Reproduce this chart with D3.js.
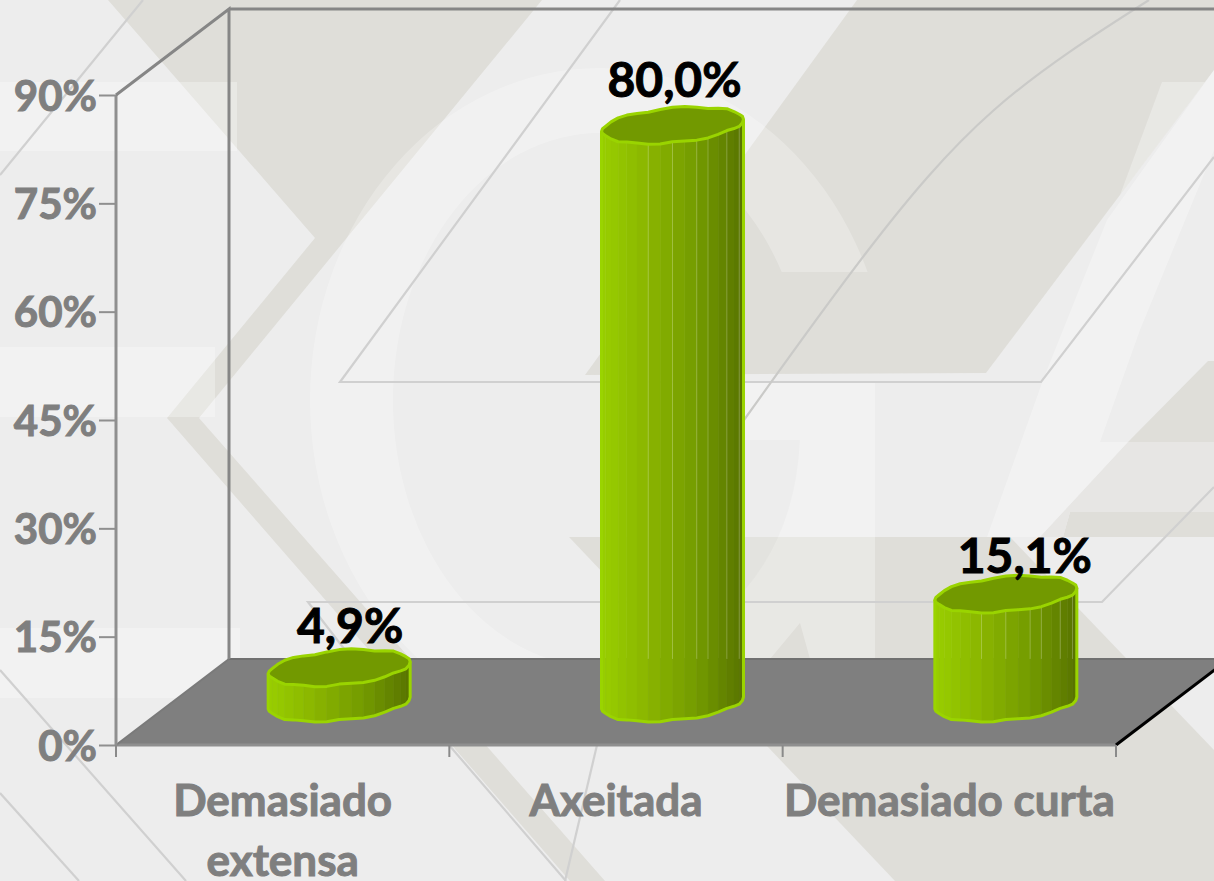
<!DOCTYPE html>
<html><head><meta charset="utf-8">
<script src="https://cdn.jsdelivr.net/npm/d3@7/dist/d3.min.js"></script>
<style>html,body{margin:0;padding:0;background:#ededed;overflow:hidden}svg{display:block}text{font-family:Lato,"Open Sans",sans-serif;font-weight:700;paint-order:stroke}</style>
</head><body><svg id="c" width="1214" height="881"></svg>
<script>
// ---- chart data ----
const categories = [["Demasiado","extensa"],["Axeitada"],["Demasiado curta"]];
const values = [4.9, 80.0, 15.1];
const valueLabels = ["4,9%","80,0%","15,1%"];
const yTicks = [0,15,30,45,60,75,90];
const labelShift = [11, 2, 19];
const labelLift = [25, 28, 21];

// ---- backdrop artwork (decorative watermark, not data) ----
const darkShapes = [
  [[108,0],[315,238],[167,418],[199,418],[542,0]],
  [[167,418],[199,418],[605,881],[570,881]],
  [[857,0],[1214,0],[1214,70],[986,373],[585,375]],
  [[569,537],[1010,537],[1214,750],[1214,881],[895,881]],
  [[1208,361],[1214,361],[1214,442],[1128,442]],
  [[1070,512],[1214,512],[1214,537],[1063,537]]
];
const midShapes = [
  [[1128,442],[1214,442],[1214,512],[1070,512],[1063,537],[1040,537]]
];
const brightShapes = [
  [[1214,70],[1107,220],[1043,380],[987,537],[1040,537],[1128,442],[1100,442],[1140,330],[1214,150]],
  [[745,383],[875,383],[875,659],[810,659],[800,623],[770,659],[745,659]],
  [[1162,82],[1205,82],[1120,195]],
  [[0,82],[237,82],[237,151],[0,151]],
  [[0,347],[215,347],[215,417],[0,417]],
  [[0,628],[240,628],[240,698],[0,698]]
];
const thinLines = [
  [[620,0],[340,382],[1041,382],[1214,157]],
  [[345,650],[308,602],[1102,602],[1214,487]],
  [[0,175],[143,0]],
  [[0,670],[186,881]],
  [[0,793],[79,881]],
  [[449,745],[566,881]],
  [[597,745],[565,881]]
];
const thinCurve = [[744,420],[866,253],[994,110],[1149,0]];
const ring = {cx:600, cy:400, rxOut:290, ryOut:332, rxIn:207, ryIn:267};

const svg = d3.select("#c");
const W = 1214, H = 881;
const bg = svg.append("g");
bg.append("rect").attr("width",W).attr("height",H).attr("fill","#ededed");
const poly = d3.line();
bg.selectAll("path.d").data(darkShapes).join("path").attr("class","d").attr("d",d=>poly(d)+"Z").attr("fill","#dfded9");
bg.selectAll("path.m").data(midShapes).join("path").attr("class","m").attr("d",d=>poly(d)+"Z").attr("fill","#e7e6e4");
const defs = svg.append("defs");
defs.append("clipPath").attr("id","ringClip").append("path").attr("d",poly([[0,0],[W,0],[W,272],[745,272],[745,H],[0,H]])+"Z");
const ell = (cx,cy,rx,ry)=>`M${cx-rx},${cy}a${rx},${ry} 0 1,0 ${2*rx},0a${rx},${ry} 0 1,0 ${-2*rx},0Z`;
bg.append("g").attr("clip-path","url(#ringClip)").append("path")
  .attr("d",ell(ring.cx,ring.cy,ring.rxOut,ring.ryOut)+ell(ring.cx,ring.cy,ring.rxIn,ring.ryIn))
  .attr("fill-rule","evenodd").attr("fill","#fff").attr("opacity",0.25);
bg.selectAll("path.b").data(brightShapes).join("path").attr("class","b").attr("d",d=>poly(d)+"Z").attr("fill","#fff").attr("opacity",0.3);
bg.append("path").attr("d","M745,440H800Q796,530 745,590Z").attr("fill","#000").attr("opacity",0.018);
bg.selectAll("path.l").data(thinLines).join("path").attr("class","l").attr("d",d=>poly(d)).attr("fill","none").attr("stroke","#d0d0d0").attr("stroke-width",2.2);
bg.append("path").attr("d",d3.line().curve(d3.curveNatural)(thinCurve)).attr("fill","none").attr("stroke","#cacac8").attr("stroke-width",2.2);

// ---- scales ----
const y = d3.scaleLinear().domain([0,90]).range([745,95]);
const x = d3.scaleBand().domain(d3.range(categories.length)).range([116,1116]);
const depth = {dx:113, dy:86};

// ---- floor and walls ----
const x0 = x.range()[0], x1 = x.range()[1], y0 = y(0), yT = y(90);
const g = svg.append("g");
g.append("path").attr("d",poly([[x0,y0],[x0+depth.dx,y0-depth.dy],[x1+depth.dx,y0-depth.dy],[x1,y0]])+"Z").attr("fill","#7f7f7f");
const wall = (a,c,w)=>g.append("path").attr("d",poly(a)).attr("fill","none").attr("stroke",c).attr("stroke-width",w);
wall([[x0,y0],[x1,y0]],"#8f8f8f",3);
wall([[x0+depth.dx,y0-depth.dy],[x1+depth.dx,y0-depth.dy]],"#707070",2);
wall([[x0,y0],[x0+depth.dx,y0-depth.dy]],"#7a7a7a",2);
wall([[x1,y0],[x1+depth.dx,y0-depth.dy]],"#000",3);
wall([[x0,y0],[x0,yT]],"#8f8f8f",3);
wall([[x0,yT],[x0+depth.dx,yT-depth.dy],[x0+depth.dx,y0-depth.dy]],"#868686",3);
wall([[x0+depth.dx,yT-depth.dy],[x1+depth.dx,yT-depth.dy]],"#868686",3);

// ---- y axis ----
const yAxis = d3.axisLeft(y).tickValues(yTicks).tickFormat(d=>d+"%").tickSize(17).tickPadding(2);
const ya = svg.append("g").attr("transform",`translate(${x0},0)`).call(yAxis);
ya.select(".domain").remove();
ya.selectAll("line").attr("stroke","#8f8f8f").attr("stroke-width",2);
ya.selectAll("text").attr("fill","#7f7f7f").attr("font-size",42).attr("dy","0.36em").attr("font-family",null)
  .attr("stroke","#7f7f7f").attr("stroke-width",1);

// ---- x axis ----
const xa = svg.append("g");
xa.selectAll("line").data(d3.range(categories.length+1)).join("line")
  .attr("x1",i=>x0+i*x.step()).attr("x2",i=>x0+i*x.step()).attr("y1",y0).attr("y2",y0+12)
  .attr("stroke","#8a8a8a").attr("stroke-width",2);
xa.selectAll("text").data(categories).join("text")
  .attr("text-anchor","middle").attr("fill","#7f7f7f").attr("font-size",44)
  .attr("stroke","#7f7f7f").attr("stroke-width",1)
  .each(function(c,i){
    d3.select(this).selectAll("tspan").data(c).join("tspan")
      .attr("x",x(i)+x.bandwidth()/2).attr("y",(d,k)=>816+k*60).text(d=>d);
  });

// ---- cylinders ----
const N = 36, A = 71, B = 17, K = 6, baseLift = 42;
const wobble = [0,0.5,1,0,-1,0,1,1,0,-0.5,1,1,0,0,1,0,-1,-0.5,0,
                0.5,1,0,-1,-1,0,1,0,-1,-1,0,1,0,-1,0,0.5,0];
const seams = [2,4,6,7,9,11];
const ringPts = (cx,cy)=>d3.range(N).map(i=>{
  const t = i*2*Math.PI/N;
  return [cx+A*Math.cos(t), cy+B*Math.sin(t)-K*Math.cos(t)+wobble[i]];
});
const shade = d3.scaleLinear().domain([-A,-A*0.35,A*0.35,A]).range(["#99cf00","#8ab500","#739a00","#587300"]);
const bars = svg.append("g");
values.forEach((v,i)=>{
  const cx = x(i)+x.bandwidth()/2+depth.dx/2, topY = y(v)-baseLift, botY = y(0)-baseLift;
  const top = ringPts(cx,topY), bot = ringPts(cx,botY);
  const b = bars.append("g");
  const facets = d3.range(N/2);
  b.selectAll("path.f").data(facets).join("path").attr("class","f")
    .attr("d",k=>poly([top[k],top[k+1],bot[k+1],bot[k]])+"Z")
    .attr("fill",k=>shade((top[k][0]+top[k+1][0])/2-cx))
    .attr("stroke",k=>shade((top[k][0]+top[k+1][0])/2-cx)).attr("stroke-width",0.6);
  // faint facet seams visible above the floor's back edge on taller bars
  const floorBack = y0-depth.dy;
  if (topY < floorBack) {
    b.selectAll("line.s").data(seams).join("line").attr("class","s")
      .attr("x1",k=>top[k][0]).attr("x2",k=>top[k][0]).attr("y1",k=>top[k][1]).attr("y2",floorBack)
      .attr("stroke","#fff").attr("stroke-opacity",0.22).attr("stroke-width",1);
  }
  const outline = bot.slice(0,N/2+1).reverse();
  b.append("path").attr("d",poly([top[N/2],...outline,top[0]])).attr("fill","none").attr("stroke","#9ad400").attr("stroke-width",3).attr("stroke-linejoin","round");
  b.append("path").attr("d",poly(top)+"Z").attr("fill","#729900").attr("stroke","#9ad400").attr("stroke-width",3).attr("stroke-linejoin","round");
  svg.append("text").attr("x",cx+labelShift[i]).attr("y",topY-labelLift[i]).attr("text-anchor","middle")
    .attr("font-size",48).attr("fill","#000").attr("stroke","#000").attr("stroke-width",1).text(valueLabels[i]);
});
</script></body></html>
